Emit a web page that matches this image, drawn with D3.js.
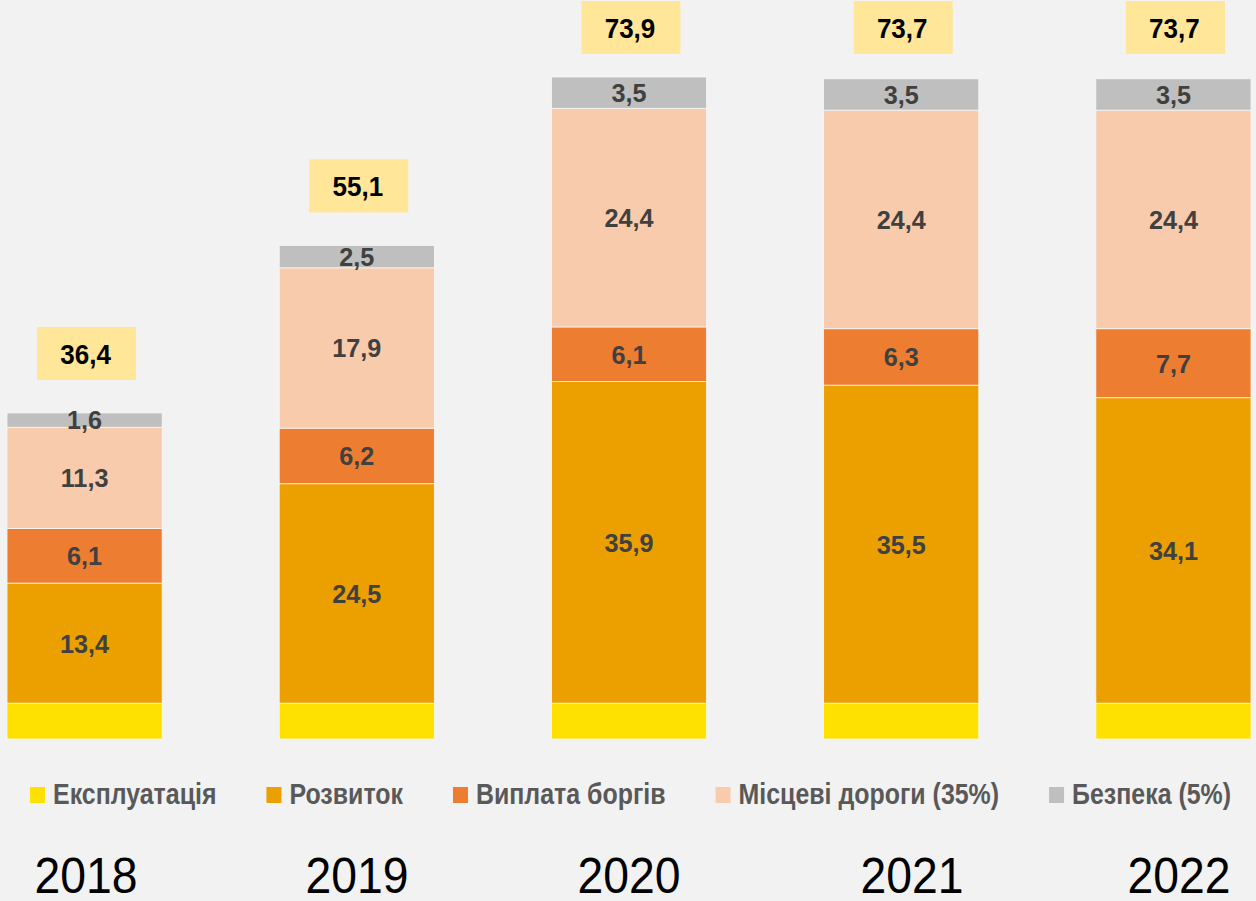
<!DOCTYPE html>
<html><head><meta charset="utf-8">
<script src="https://cdn.jsdelivr.net/npm/d3@7"></script>
<style>html,body{margin:0;padding:0;background:#f2f2f2;} svg{display:block;}</style>
</head><body>
<svg id="chart" width="1256" height="901"></svg>
<script>
const years = ["2018","2019","2020","2021","2022"];
const seriesNames = ["Експлуатація","Розвиток","Виплата боргів","Місцеві дороги (35%)","Безпека (5%)"];
const seriesColors = ["#FFE100","#EBA000","#ED7D31","#F8CBAD","#BFBFBF"];
const exploitation = [4.0,4.0,4.0,4.0,4.0];
const development = [13.4,24.5,35.9,35.5,34.1];
const debt = [6.1,6.2,6.1,6.3,7.7];
const localRoads = [11.3,17.9,24.4,24.4,24.4];
const safety = [1.6,2.5,3.5,3.5,3.5];
const totals = [36.4,55.1,73.9,73.7,73.7];
const showLabel = [false,true,true,true,true];

const svg = d3.select("#chart");
const W = 1256, H = 901;
svg.append("rect").attr("width",W).attr("height",H).attr("fill","#f2f2f2");

const keys = ["e","d","b","l","s"];
const rows = years.map((y,i)=>({year:y,e:exploitation[i],d:development[i],b:debt[i],l:localRoads[i],s:safety[i],total:totals[i]}));
const stack = d3.stack().keys(keys)(rows);

const x = d3.scaleBand().domain(years).range([7,1251]).paddingInner(0.43).paddingOuter(0).align(0);
const y = d3.scaleLinear().domain([0,73.9]).range([739,77]);

const fmt = v => d3.format(".1f")(v).replace(".",",");
const FN = "'Liberation Sans',Arial,sans-serif";

function sText(parent, tx, ty, sx, txt){
  return parent.append("text")
    .attr("transform",`translate(${tx},${ty}) scale(${sx},1)`)
    .attr("font-family",FN).text(txt);
}

const g = svg.append("g");
stack.forEach((layer,k)=>{
  const lg = g.append("g");
  lg.selectAll("rect").data(layer).join("rect")
    .attr("x",d=>x(d.data.year))
    .attr("width",x.bandwidth())
    .attr("y",d=>y(d[1]))
    .attr("height",d=>y(d[0])-y(d[1]))
    .attr("fill",seriesColors[k])
    .attr("stroke","#f7f7f7").attr("stroke-width",0.8);
  if(showLabel[k]){
    lg.selectAll("text").data(layer).join("text")
      .attr("transform",d=>`translate(${x(d.data.year)+x.bandwidth()/2},${(y(d[0])+y(d[1]))/2}) scale(0.97,1)`)
      .attr("dy","0.36em")
      .attr("text-anchor","middle")
      .attr("font-family",FN).attr("font-weight","bold").attr("font-size",26)
      .attr("fill","#404040")
      .text(d=>fmt(d[1]-d[0]));
  }
});

// total boxes
const bw = 99, bh = 53;
const tg = svg.append("g");
rows.forEach((r,i)=>{
  const cx = x(r.year)+x.bandwidth()/2+2;
  const top = Math.max(y(r.total)-33-bh, 1);
  tg.append("rect").attr("x",cx-bw/2).attr("y",top).attr("width",bw).attr("height",bh).attr("fill","#FFE699");
  sText(tg, cx-1, top+bh/2, 0.93, fmt(r.total))
    .attr("dy","0.36em").attr("text-anchor","middle")
    .attr("font-weight","bold").attr("font-size",28).attr("fill","#000");
});

// legend
const leg = svg.append("g");
let lx = 30;
const lsx = 0.86;
seriesNames.forEach((n,k)=>{
  leg.append("rect").attr("x",lx).attr("y",787).attr("width",15).attr("height",16).attr("fill",seriesColors[k]);
  const t = sText(leg, lx+23, 804, lsx, n)
    .attr("font-weight","bold").attr("font-size",29).attr("fill","#595959");
  lx += 23 + t.node().getComputedTextLength()*lsx + 50;
});

// year labels
const yearX = [86,357,629,912,1179];
const yg = svg.append("g");
years.forEach((yr,i)=>{
  sText(yg, yearX[i], 893, 0.945, yr)
    .attr("text-anchor","middle").attr("font-size",49).attr("fill","#000");
});
</script>
</body></html>
